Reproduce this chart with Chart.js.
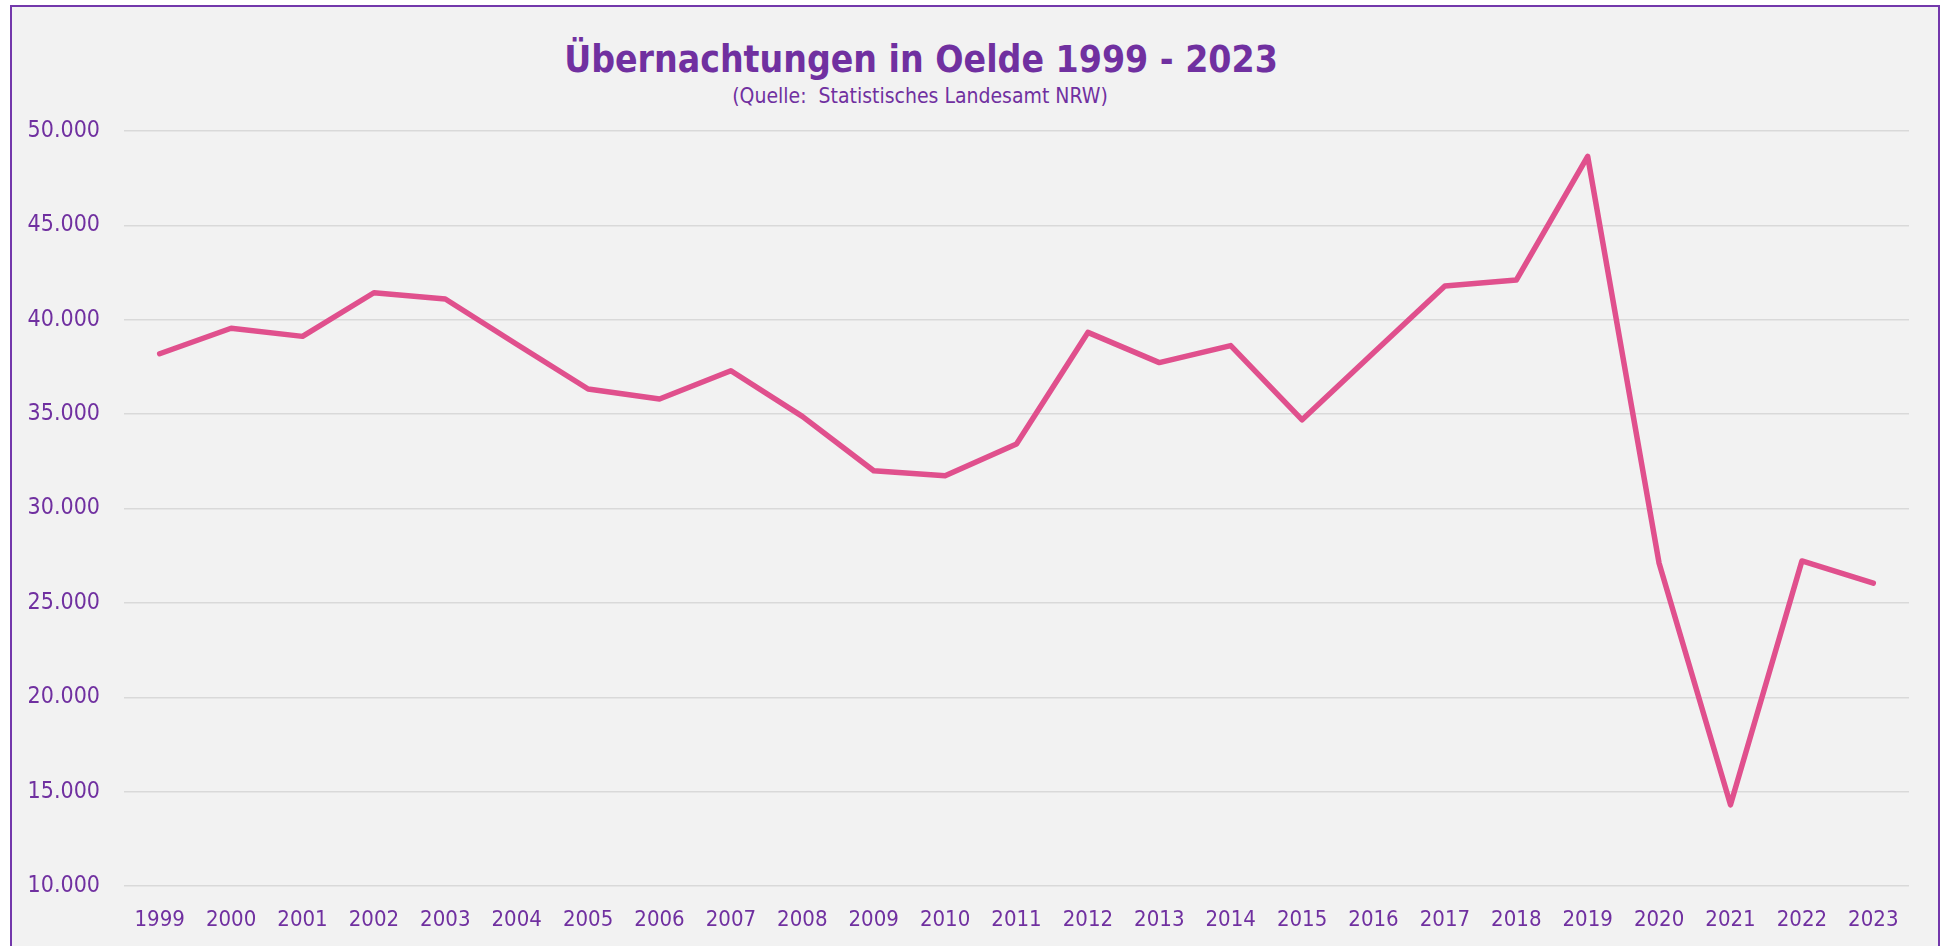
<!DOCTYPE html>
<html>
<head>
<meta charset="utf-8">
<script src="https://cdn.jsdelivr.net/npm/chart.js@4.4.1/dist/chart.umd.min.js"></script>
<style>
  html, body { margin: 0; padding: 0; background: #ffffff; overflow: hidden; }
  #rahmen {
    position: absolute; left: 10px; top: 5px; width: 1926px; height: 1000px;
    border: 2px solid #7338ab; background: #f2f2f2;
  }
  #titel {
    position: absolute; left: 0; width: 1842px; top: 36px; text-align: center;
    font-family: "DejaVu Sans Condensed", "DejaVu Sans", sans-serif; font-weight: bold;
    font-size: 37px; color: #7030a0; line-height: 48px;
  }
  #quelle {
    position: absolute; left: 0; width: 1840px; top: 84px; text-align: center;
    font-family: "DejaVu Sans Condensed", "DejaVu Sans", sans-serif;
    font-size: 21px; color: #7030a0; line-height: 24px; white-space: pre;
  }
  #wrap { position: absolute; left: 0; top: 0; width: 1945px; height: 946px; }
</style>
</head>
<body>
<div id="rahmen"></div>
<div id="titel">Übernachtungen in Oelde 1999 - 2023</div>
<div id="quelle">(Quelle:  Statistisches Landesamt NRW)</div>
<div id="wrap"><canvas id="miGrafico"></canvas></div>
<script>
// Jahre (Kategorien)
const jahre = ["1999", "2000", "2001", "2002", "2003", "2004", "2005", "2006", "2007", "2008",
    "2009", "2010", "2011", "2012", "2013", "2014", "2015", "2016", "2017", "2018",
    "2019", "2020", "2021", "2022", "2023"];

// Übernachtungen pro Jahr
const uebernachtungen = [38200, 39550, 39120, 41430, 41100, 38700, 36330, 35800, 37300, 34880,
    32000, 31740, 33420, 39330, 37730, 38630, 34700, 38250, 41790, 42100,
    48650, 27100, 14300, 27220, 26040];

// Achse
const yMin = 10000;
const yMax = 50000;
const yStep = 5000;

const lila = '#7030a0';
const schrift = '"DejaVu Sans Condensed", "DejaVu Sans", sans-serif';

function formatTausend(v) {
    return String(v).replace(/\B(?=(\d{3})+(?!\d))/g, '.');
}

const ctx = document.getElementById('miGrafico').getContext('2d');

new Chart(ctx, {
    type: 'line',
    data: {
        labels: jahre,
        datasets: [{
            label: 'Übernachtungen',
            data: uebernachtungen,
            borderColor: '#e0508d',
            borderWidth: 5.5,
            borderCapStyle: 'round',
            borderJoinStyle: 'round',
            pointRadius: 0,
            tension: 0,
            fill: false
        }]
    },
    options: {
        responsive: true,
        maintainAspectRatio: false,
        animation: false,
        layout: { padding: { top: 131, right: 36, bottom: 0, left: 0 } },
        plugins: {
            legend: { display: false },
            title: { display: false },
            tooltip: { enabled: false }
        },
        scales: {
            x: {
                offset: true,
                grid: { display: false, drawTicks: false },
                border: { display: false },
                ticks: {
                    color: lila, font: { family: schrift, size: 22 },
                    padding: 21, maxRotation: 0, autoSkip: false
                },
                afterFit: (s) => { s.height = 60; }
            },
            y: {
                min: yMin,
                max: yMax,
                grid: { color: '#d9d9d9', lineWidth: 1.5, drawTicks: false },
                border: { display: false },
                ticks: {
                    stepSize: yStep,
                    color: lila, font: { family: schrift, size: 23 },
                    padding: 24,
                    callback: (v) => formatTausend(v)
                },
                afterFit: (s) => { s.width = 124; }
            }
        }
    }
});
</script>
</body>
</html>
